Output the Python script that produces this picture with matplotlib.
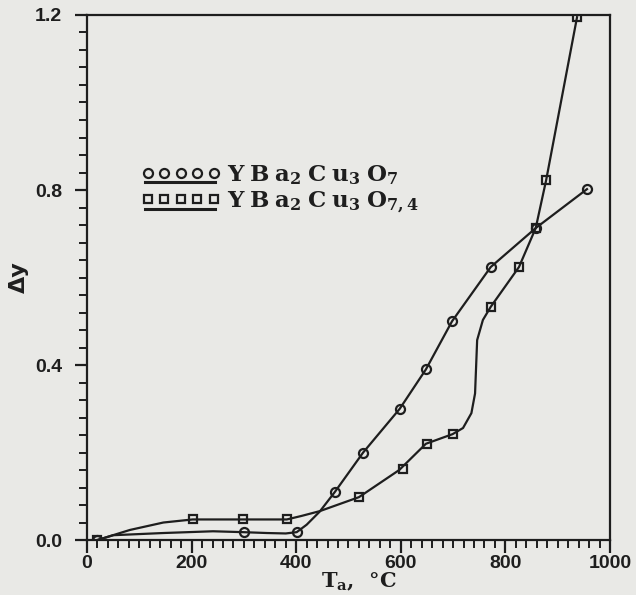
import matplotlib
matplotlib.use("Agg")
import matplotlib.pyplot as plt
from matplotlib.ticker import MultipleLocator

# YBa2Cu3O7 (circles): marked points
circ_T = [20, 300, 401, 474, 528, 598, 648, 698, 772, 858, 956]
circ_dy = [0.0, 0.018, 0.018, 0.11, 0.20, 0.30, 0.39, 0.50, 0.624, 0.713, 0.802]
# hand-drawn curve through them
circ_line_T = [20, 50, 146, 241, 298, 344, 380, 401, 420, 445, 474, 528, 598,
               648, 698, 772, 858, 956]
circ_line_dy = [0.0, 0.011, 0.016, 0.02, 0.018, 0.016, 0.015, 0.018, 0.035,
                0.065, 0.11, 0.20, 0.30, 0.39, 0.50, 0.624, 0.713, 0.802]

# YBa2Cu3O7.4 (squares)
sq_T = [20, 202, 298, 382, 520, 604, 650, 699, 772, 826, 858, 878, 937]
sq_dy = [0.0, 0.047, 0.047, 0.047, 0.098, 0.162, 0.22, 0.242, 0.533, 0.624,
         0.713, 0.823, 1.195]
sq_line_T = [20, 82, 146, 202, 298, 382, 410, 445, 520, 597, 648, 699, 719,
             735, 742, 744, 746, 757, 772, 826, 858, 878, 937]
sq_line_dy = [0.0, 0.023, 0.04, 0.047, 0.047, 0.047, 0.055, 0.066, 0.098,
              0.16, 0.22, 0.242, 0.256, 0.29, 0.335, 0.396, 0.457, 0.503,
              0.533, 0.624, 0.713, 0.823, 1.195]

labels = [r"$\mathbf{Y\;B\;a_2\;C\;u_3\;O_7}$",
          r"$\mathbf{Y\;B\;a_2\;C\;u_3\;O_{7,4}}$"]

plt.rcParams["mathtext.fontset"] = "dejavuserif"

bg = "#e9e9e6"
ink = "#1e1e1e"

fig = plt.figure(figsize=(6.36, 5.95), dpi=100, facecolor=bg)
ax = fig.add_axes([0.1368, 0.0924, 0.8223, 0.8824], facecolor=bg)

ax.plot(circ_line_T, circ_line_dy, color=ink, lw=1.6)
ax.plot(sq_line_T, sq_line_dy, color=ink, lw=1.6)
ax.plot(circ_T, circ_dy, "o", ms=6.5, mfc="none", mec=ink, mew=1.6)
ax.plot(sq_T, sq_dy, "s", ms=6, mfc="none", mec=ink, mew=1.6)

ax.set_xlim(0, 1000)
ax.set_ylim(0, 1.2)
ax.xaxis.set_major_locator(MultipleLocator(200))
ax.xaxis.set_minor_locator(MultipleLocator(20))
ax.yaxis.set_major_locator(MultipleLocator(0.4))
ax.yaxis.set_minor_locator(MultipleLocator(0.04))
ax.yaxis.set_major_formatter(lambda v, p: f"{v:.1f}")

for s in ax.spines.values():
    s.set_linewidth(1.6)
    s.set_color(ink)
ax.tick_params(which="major", direction="out", length=9, width=1.6,
               color=ink, labelsize=14, pad=2)
ax.tick_params(axis="y", which="major", pad=9)
ax.tick_params(which="minor", direction="out", length=6, width=1.4, color=ink)
for lab in ax.get_xticklabels() + ax.get_yticklabels():
    lab.set_fontfamily("Liberation Sans")
    lab.set_fontweight("bold")
    lab.set_color(ink)

ax.set_ylabel("Δy", fontsize=16, fontweight="bold", family="DejaVu Sans",
              color=ink)
ax.yaxis.set_label_coords(-0.112, 0.5)
ax.set_xlabel(r"$\mathbf{T_a,\;\;°C}$", fontsize=15, color=ink)
ax.xaxis.set_label_coords(0.52, -0.058)

# hand-drawn legend
rows = [(0.699, 0.682, 0.684, "o", 6.5), (0.650, 0.631, 0.634, "s", 6)]
xs = [0.116, 0.148, 0.179, 0.211, 0.242]
for (ym, yl, yt, mk, ms), lab in zip(rows, labels):
    ax.plot(xs, [ym] * 5, mk, ms=ms, mfc="none", mec=ink, mew=1.6,
            transform=ax.transAxes, clip_on=False)
    ax.plot([0.111, 0.245], [yl, yl], color=ink, lw=2.2,
            transform=ax.transAxes)
    ax.text(0.268, yt, lab, transform=ax.transAxes, fontsize=16.5,
            color=ink, va="baseline", ha="left")

fig.savefig("out.png", dpi=100, facecolor=bg)
